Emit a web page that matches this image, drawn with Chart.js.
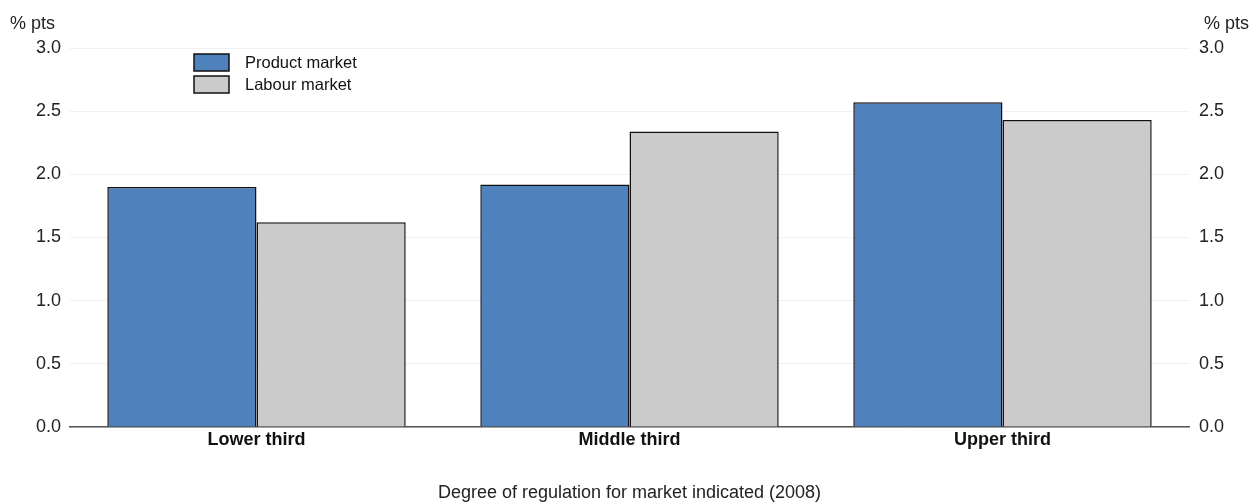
<!DOCTYPE html>
<html>
<head>
<meta charset="utf-8">
<script src="https://cdn.jsdelivr.net/npm/chart.js@4/dist/chart.umd.min.js"></script>
<style>
html,body{margin:0;padding:0;background:#fff;}
#wrap{width:1252px;height:504px;position:relative;}
</style>
</head>
<body>
<div id="wrap"><canvas id="c" width="1252" height="504"></canvas></div>
<script>
const categories = ["Lower third", "Middle third", "Upper third"];
const productMarket = [1.90, 1.92, 2.57];
const labourMarket = [1.62, 2.34, 2.43];
const yTicks = [0.0, 0.5, 1.0, 1.5, 2.0, 2.5, 3.0];
const seriesNames = ["Product market", "Labour market"];
const unitLabel = "% pts";
const xTitle = "Degree of regulation for market indicated (2008)";

const FONT = "Arial, 'Liberation Sans', sans-serif";

const overlay = {
  id: 'overlay',
  afterDraw(chart) {
    const ctx = chart.ctx;
    ctx.save();
    ctx.font = "18px " + FONT;
    ctx.fillStyle = "#222";
    ctx.textBaseline = "middle";
    ctx.textAlign = "left";
    ctx.fillText(unitLabel, 10, 24);
    ctx.fillText(unitLabel, 1204, 24);
    // legend
    ctx.font = "16.5px " + FONT;
    chart.data.datasets.forEach((ds, i) => {
      const y = 54 + i * 22;
      ctx.fillStyle = ds.backgroundColor;
      ctx.fillRect(194, y, 35, 17);
      ctx.strokeStyle = "#111";
      ctx.lineWidth = 1.5;
      ctx.strokeRect(194, y, 35, 17);
      ctx.fillStyle = "#111";
      ctx.fillText(ds.label, 245, y + 9);
    });
    ctx.restore();
  }
};

new Chart(document.getElementById('c'), {
  type: 'bar',
  data: {
    labels: categories,
    datasets: [
      { label: seriesNames[0], data: productMarket, backgroundColor: '#4f81bd', borderColor: '#111', borderWidth: 1.5, yAxisID: 'y' },
      { label: seriesNames[1], data: labourMarket, backgroundColor: '#cbcbcb', borderColor: '#111', borderWidth: 1.5, yAxisID: 'y' }
    ]
  },
  options: {
    responsive: false,
    animation: false,
    layout: { padding: { top: 48, left: 0, right: 0, bottom: 0 } },
    plugins: { legend: { display: false }, tooltip: { enabled: false } },
    datasets: { bar: { categoryPercentage: 0.80, barPercentage: 1.0 } },
    scales: {
      x: {
        grid: { display: false, drawTicks: false },
        border: { display: true, color: '#555', width: 1.5 },
        ticks: { font: { family: FONT, size: 18, weight: 'bold' }, color: '#111', padding: 2 },
        title: { display: true, text: xTitle, font: { family: FONT, size: 18 }, color: '#222', padding: { top: 30, bottom: 0 } },
        afterFit(s) { s.height = 77; }
      },
      y: {
        position: 'left',
        min: 0, max: 3,
        afterBuildTicks(s) { s.ticks = yTicks.map(v => ({ value: v })); },
        grid: { color: '#eef0f6', lineWidth: 1, drawTicks: false },
        border: { display: false },
        ticks: { font: { family: FONT, size: 18 }, color: '#222', padding: 9, callback: v => Number(v).toFixed(1) },
        afterFit(s) { s.width = 70; }
      },
      y2: {
        position: 'right',
        min: 0, max: 3,
        afterBuildTicks(s) { s.ticks = yTicks.map(v => ({ value: v })); },
        grid: { display: false, drawTicks: false },
        border: { display: false },
        ticks: { font: { family: FONT, size: 18 }, color: '#222', padding: 10, callback: v => Number(v).toFixed(1) },
        afterFit(s) { s.width = 63; }
      }
    }
  },
  plugins: [overlay]
});
</script>
</body>
</html>
